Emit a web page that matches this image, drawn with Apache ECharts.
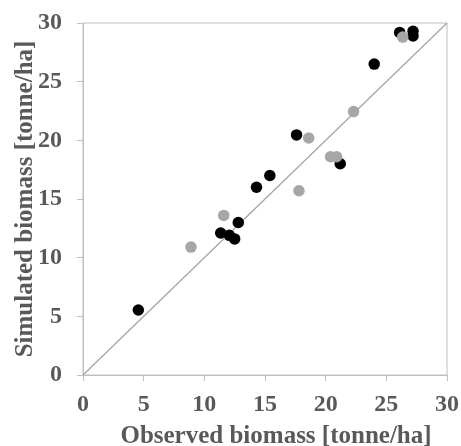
<!DOCTYPE html>
<html>
<head>
<meta charset="utf-8">
<script src="https://cdn.jsdelivr.net/npm/echarts@6/dist/echarts.min.js"></script>
<style>
  html, body { margin: 0; padding: 0; background: #fff; }
  #chart { width: 461px; height: 446px; }
</style>
</head>
<body>
<div id="chart"></div>
<script>
// observed vs simulated biomass [tonne/ha]
const blackObserved = [4.56, 11.35, 12.06, 12.5, 12.8, 14.3, 15.4, 17.6, 21.2, 24.0, 26.1, 27.2, 27.2];
const blackSimulated = [5.54, 12.1, 11.9, 11.6, 13.0, 16.0, 17.0, 20.46, 18.0, 26.5, 29.2, 29.3, 28.9];
const grayObserved = [8.9, 11.6, 17.8, 18.6, 20.4, 20.9, 22.3, 26.35];
const graySimulated = [10.9, 13.6, 15.7, 20.2, 18.6, 18.6, 22.45, 28.8];
const oneToOne = [[0, 0], [30, 30]];
const axisTicks = [0, 5, 10, 15, 20, 25, 30];

const font = "'Liberation Serif', 'Times New Roman', serif";
const textGray = "#595959";
const lineGray = "#bfbfbf";

const chart = echarts.init(document.getElementById("chart"));

const axisCommon = {
  type: "value",
  min: axisTicks[0],
  max: axisTicks[axisTicks.length - 1],
  interval: axisTicks[1] - axisTicks[0],
  nameLocation: "middle",
  nameMoveOverlap: false,
  axisLine: { show: true, lineStyle: { color: lineGray, width: 1 } },
  axisTick: { show: true, length: 6, lineStyle: { color: lineGray } },
  splitLine: { show: false },
  axisLabel: {
    color: textGray,
    fontFamily: font,
    fontWeight: "bold",
    fontSize: 24,
  },
  nameTextStyle: {
    color: textGray,
    fontFamily: font,
    fontWeight: "bold",
    fontSize: 25,
  },
};

const pairs = (xs, ys) => xs.map((x, i) => [x, ys[i]]);

chart.setOption({
  animation: false,
  grid: {
    left: 83,
    right: 14,
    top: 23,
    bottom: 71,
    outerBoundsMode: "none",
    show: true,
    borderColor: lineGray,
    borderWidth: 1,
  },
  xAxis: {
    ...axisCommon,
    name: "Observed biomass [tonne/ha]",
    nameGap: 49,
    axisLabel: { ...axisCommon.axisLabel, margin: 18 },
    nameTextStyle: { ...axisCommon.nameTextStyle, padding: [0, 0, 0, 22] },
  },
  yAxis: {
    ...axisCommon,
    name: "Simulated biomass [tonne/ha]",
    nameGap: 45,
    axisLabel: { ...axisCommon.axisLabel, margin: 21 },
  },
  series: [
    {
      type: "line",
      data: oneToOne,
      symbol: "none",
      lineStyle: { color: "#a6a6a6", width: 1.3 },
      z: 1,
    },
    {
      type: "scatter",
      data: pairs(blackObserved, blackSimulated),
      symbolSize: 11.5,
      itemStyle: { color: "#000000", opacity: 1 },
      z: 2,
    },
    {
      type: "scatter",
      data: pairs(grayObserved, graySimulated),
      symbolSize: 11.5,
      itemStyle: { color: "#a6a6a6", opacity: 1 },
      z: 3,
    },
  ],
});
</script>
</body>
</html>
